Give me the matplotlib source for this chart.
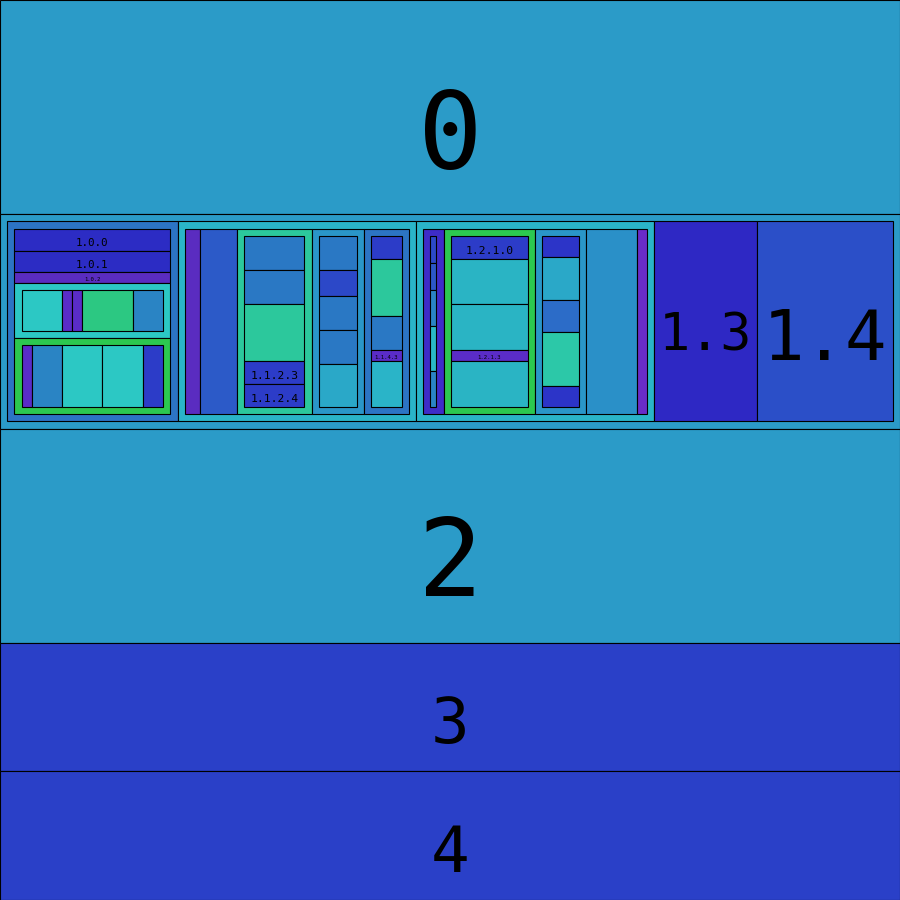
import matplotlib.pyplot as plt
from matplotlib.patches import Rectangle

# 节点名称（层级由名称中的点号表示）
names = [
    "0", "1", "2", "3", "4",
    "1.0", "1.1", "1.2", "1.3", "1.4",
    "1.0.0", "1.0.1", "1.0.2", "1.0.3", "1.0.4",
    "1.0.3.0", "1.0.3.1", "1.0.3.2", "1.0.3.3", "1.0.3.4",
    "1.0.4.0", "1.0.4.1", "1.0.4.2", "1.0.4.3", "1.0.4.4",
    "1.1.0", "1.1.1", "1.1.2", "1.1.3", "1.1.4",
    "1.1.2.0", "1.1.2.1", "1.1.2.2", "1.1.2.3", "1.1.2.4",
    "1.1.3.0", "1.1.3.1", "1.1.3.2", "1.1.3.3", "1.1.3.4",
    "1.1.4.0", "1.1.4.1", "1.1.4.2", "1.1.4.3", "1.1.4.4",
    "1.2.0", "1.2.1", "1.2.2", "1.2.3", "1.2.4",
    "1.2.0.0", "1.2.0.1", "1.2.0.2", "1.2.0.3", "1.2.0.4",
    "1.2.1.0", "1.2.1.1", "1.2.1.2", "1.2.1.3", "1.2.1.4",
    "1.2.2.0", "1.2.2.1", "1.2.2.2", "1.2.2.3", "1.2.2.4",
]

# 各节点在兄弟之间的权重
weights = [
    5, 5, 5, 3, 3,
    5, 7, 7, 3, 4,
    2, 2, 1, 5, 7,
    4, 1, 1, 5, 3,
    1, 3, 4, 4, 2,
    2, 5, 10, 7, 6,
    3, 3, 5, 2, 2,
    4, 3, 4, 4, 5,
    2, 5, 3, 1, 4,
    2, 9, 5, 5, 1,
    3, 3, 4, 5, 4,
    2, 4, 4, 1, 4,
    2, 4, 3, 5, 2,
]

colors = [
    "#2b9bc8", "#2b9bc8", "#2b9bc8", "#2a40c8", "#2a40c8",
    "#2c74c4", "#2ab4c8", "#2ab4c8", "#2e28c4", "#2b4fc8",
    "#2c2cc4", "#2c2cc4", "#5a2cc0", "#2cc8c4", "#2cc850",
    "#2cc8c4", "#5a2cc8", "#5a2cc8", "#2cc882", "#2a84c4",
    "#5a2cc8", "#2a84c4", "#2cc8c4", "#2cc8c4", "#2c3cc8",
    "#5a2cc0", "#2c5ac8", "#2cc89c", "#2a96c8", "#2c74c4",
    "#2a78c4", "#2a78c4", "#2cc89c", "#2c3cc8", "#2c3cc8",
    "#2a78c4", "#2c48c8", "#2a78c4", "#2a78c4", "#2aa8c8",
    "#2c3cc8", "#2cc89c", "#2a78c4", "#5a2cc8", "#2ab4c8",
    "#3e2cc8", "#2cc850", "#2a96c8", "#2a90c8", "#6a2cc8",
    "#2c4ac8", "#2c58c8", "#2a84c4", "#2ab8c4", "#2a84c4",
    "#2c3cc8", "#2ab4c4", "#2ab4c4", "#5a2cc8", "#2ab4c4",
    "#2c34c8", "#2aa8c8", "#2c6cc8", "#2cc8a8", "#2c34c8",
]

# 显示标签的节点
labeled = ["0", "2", "3", "4", "1.3", "1.4",
           "1.0.0", "1.0.1", "1.0.2",
           "1.1.2.3", "1.1.2.4", "1.1.4.3",
           "1.2.1.0", "1.2.1.3"]

SIZE = 900
PAD = 7.2
DPI = 100

children = {"": []}
for n in names:
    children[n] = []
    parent = n.rsplit(".", 1)[0] if "." in n else ""
    children[parent].append(n)
weight = dict(zip(names, weights))
color = dict(zip(names, colors))

fig = plt.figure(figsize=(SIZE / DPI, SIZE / DPI), dpi=DPI)
ax = fig.add_axes([0, 0, 1, 1])
ax.set_xlim(0, SIZE)
ax.set_ylim(SIZE, 0)
ax.axis('off')


def draw(name, x, y, w, h):
    # 绘制节点矩形
    if name:
        ax.add_patch(Rectangle((x, y), w, h, facecolor=color[name],
                               edgecolor="black", linewidth=0.8))
        if name in labeled:
            em = min(h / 2, 1.52 * w / len(name))
            ax.text(x + w / 2, y + h / 2 + 0.565 * em, name,
                    ha="center", va="baseline", color="black",
                    family="DejaVu Sans Mono", fontsize=em * 72 / DPI)
    kids = children[name]
    if not kids:
        return
    if name:
        x, y, w, h = x + PAD, y + PAD, w - 2 * PAD, h - 2 * PAD
    total = sum(weight[k] for k in kids)
    pos = 0
    for k in kids:
        frac = weight[k] / total
        # 沿较长的一边切分
        if w > h:
            draw(k, x + pos * w, y, frac * w, h)
        else:
            draw(k, x, y + pos * h, w, frac * h)
        pos += frac


draw("", 0, 0, SIZE, SIZE)

plt.savefig("out.png", dpi=DPI)
